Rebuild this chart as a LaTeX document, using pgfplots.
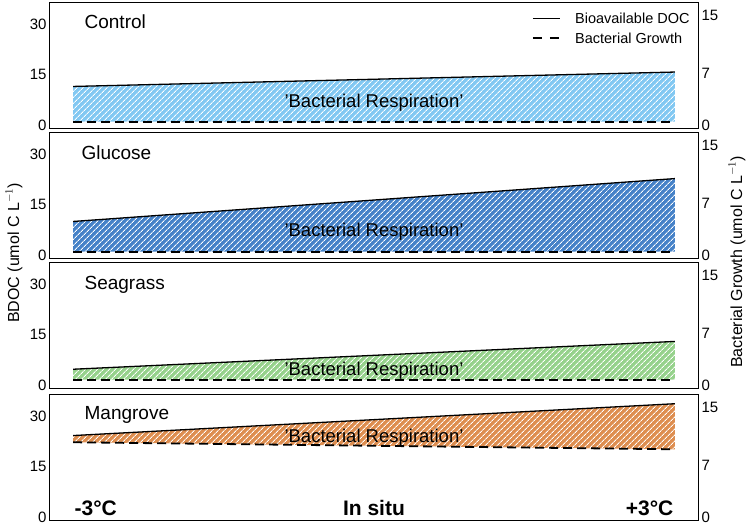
\documentclass[border=0pt]{standalone}
\usepackage{fontspec}
\setmainfont{Liberation Sans}
\usepackage{pgfplots}
\pgfplotsset{compat=1.18}
\usepgfplotslibrary{fillbetween}
\usetikzlibrary{patterns.meta}
\definecolor{cctrl}{RGB}{130,200,242}
\definecolor{cgluc}{RGB}{70,130,200}
\definecolor{csea}{RGB}{150,210,140}
\definecolor{cmang}{RGB}{222,142,80}
\pgfplotsset{
  panel/.style={
    width=648pt, height=126pt, scale only axis,
    xmin=-3.23, xmax=3.23, ymin=-0.9, ymax=36.7,
    xtick=\empty, ytick={0,15,30},
    major tick length=0pt,
    axis line style={line width=1pt},
    tick label style={font=\fontsize{15}{15}\selectfont},
    /pgf/number format/assume math mode=true,
    clip=false,
  },
  rpanel/.style={
    width=648pt, height=126pt, scale only axis,
    xmin=-3.23, xmax=3.23, ymin=-0.41, ymax=16.78,
    axis y line*=right, axis x line=none,
    ytick={0,7,15}, major tick length=0pt,
    axis line style={line width=1pt},
    tick label style={font=\fontsize{15}{15}\selectfont},
    /pgf/number format/assume math mode=true,
  },
  bdoc/.style={black, line width=1.3pt},
  growth/.style={black, line width=1.8pt, dash pattern=on 9pt off 5pt},
  hatch/.style={pattern={Lines[angle=45,distance=4pt,line width=0.9pt]}, pattern color=white},
}
\newcommand{\resp}[1]{\node[font=\fontsize{18.5}{18.5}\selectfont] at (axis cs:0,#1) {'Bacterial Respiration'};}
\newcommand{\ptitle}[3]{\node[anchor=west, font=\fontsize{19}{19}\selectfont] at (axis cs:#1,#2) {#3};}
\begin{document}
\begin{tikzpicture}
\path (-50pt,2pt) rectangle (700pt,-526pt);
% Panel 1: Control
\begin{axis}[panel, at={(0,0)}, anchor=north west]
\addplot[bdoc, name path=t1] coordinates {(-3,11.5) (3,15.8)};
\addplot[growth, name path=b1] coordinates {(-3,1.0) (3,1.0)};
\addplot[fill=cctrl, draw=none] fill between[of=t1 and b1];
\addplot[hatch, draw=none] fill between[of=t1 and b1];
\resp{6.6}
\ptitle{-2.92}{30.7}{Control}
\draw[line width=0.9pt] (axis cs:1.585,31.9) -- (axis cs:1.854,31.9);
\draw[line width=1.4pt, dash pattern=on 9pt off 8pt] (axis cs:1.585,25.95) -- (axis cs:1.854,25.95);
\node[anchor=west, font=\fontsize{14.5}{14.5}\selectfont] at (axis cs:1.97,31.9) {Bioavailable DOC};
\node[anchor=west, font=\fontsize{14.5}{14.5}\selectfont] at (axis cs:1.97,25.95) {Bacterial Growth};
\end{axis}
\begin{axis}[rpanel, at={(0,0)}, anchor=north west]
\addplot[draw=none] coordinates {(0,0)};
\end{axis}
% Panel 2: Glucose
\begin{axis}[panel, at={(0,-130pt)}, anchor=north west]
\addplot[bdoc, name path=t2] coordinates {(-3,10.0) (3,22.8)};
\addplot[growth, name path=b2] coordinates {(-3,1.0) (3,1.0)};
\addplot[fill=cgluc, draw=none] fill between[of=t2 and b2];
\addplot[hatch, draw=none] fill between[of=t2 and b2];
\resp{6.9}
\ptitle{-2.95}{30.4}{Glucose}
\end{axis}
\begin{axis}[rpanel, at={(0,-130pt)}, anchor=north west]
\addplot[draw=none] coordinates {(0,0)};
\end{axis}
% Panel 3: Seagrass
\begin{axis}[panel, at={(0,-260pt)}, anchor=north west]
\addplot[bdoc, name path=t3] coordinates {(-3,4.7) (3,13.0)};
\addplot[growth, name path=b3] coordinates {(-3,1.6) (3,1.6)};
\addplot[fill=csea, draw=none] fill between[of=t3 and b3];
\addplot[hatch, draw=none] fill between[of=t3 and b3];
\resp{4.3}
\ptitle{-2.92}{29.8}{Seagrass}
\end{axis}
\begin{axis}[rpanel, at={(0,-260pt)}, anchor=north west]
\addplot[draw=none] coordinates {(0,0)};
\end{axis}
% Panel 4: Mangrove
\begin{axis}[panel, at={(0,-392pt)}, anchor=north west]
\addplot[bdoc, name path=t4] coordinates {(-3,24.3) (3,33.8)};
\addplot[growth, name path=b4] coordinates {(-3,22.3) (3,20.2)};
\addplot[fill=cmang, draw=none] fill between[of=t4 and b4];
\addplot[hatch, draw=none] fill between[of=t4 and b4];
\resp{23.8}
\ptitle{-2.92}{30.4}{Mangrove}
\node[anchor=west, font=\bfseries\fontsize{21}{21}\selectfont] at (axis cs:-3.02,2.7) {-3°C};
\node[font=\bfseries\fontsize{21}{21}\selectfont] at (axis cs:0,2.7) {In situ};
\node[anchor=east, font=\bfseries\fontsize{21}{21}\selectfont] at (axis cs:3.02,2.7) {+3°C};
\end{axis}
\begin{axis}[rpanel, at={(0,-392pt)}, anchor=north west]
\addplot[draw=none] coordinates {(0,0)};
\end{axis}
% axis titles
\node[rotate=90, font=\fontsize{16}{16}\selectfont] at (-36pt,-251pt) {BDOC (umol C L$^{-1}$)};
\node[rotate=90, font=\fontsize{16}{16}\selectfont] at (687pt,-260pt) {Bacterial Growth (umol C L$^{-1}$)};
\end{tikzpicture}
\end{document}
